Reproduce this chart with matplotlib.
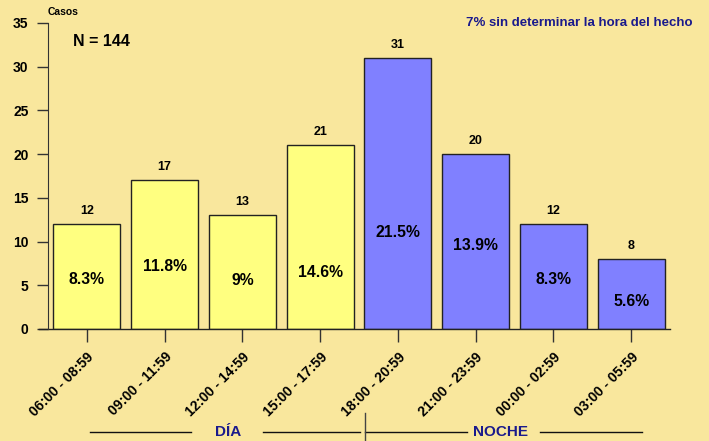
import matplotlib.pyplot as plt
from matplotlib.lines import Line2D

franjas = ['06:00 - 08:59', '09:00 - 11:59', '12:00 - 14:59', '15:00 - 17:59',
           '18:00 - 20:59', '21:00 - 23:59', '00:00 - 02:59', '03:00 - 05:59']
casos = [12, 17, 13, 21, 31, 20, 12, 8]
porcentajes = ['8.3%', '11.8%', '9%', '14.6%', '21.5%', '13.9%', '8.3%', '5.6%']
altura_pct = [5.7, 7.1, 5.6, 6.5, 11.0, 9.5, 5.7, 3.1]
periodo = ['dia'] * 4 + ['noche'] * 4

fondo = '#F9E79D'
colores = {'dia': '#FFFF80', 'noche': '#8080FF'}
azul_texto = '#1A1A8C'

plt.rcParams['font.family'] = ['Liberation Sans', 'DejaVu Sans']
plt.rcParams['font.weight'] = 'bold'

fig = plt.figure(figsize=(7.09, 4.41), dpi=100, facecolor=fondo)
ax = fig.add_axes([0.0677, 0.254, 0.8773, 0.694])
ax.set_facecolor(fondo)

x = list(range(len(casos)))
ax.bar(x, casos, width=0.86, color=[colores[p] for p in periodo],
       edgecolor='#222222', linewidth=1)

for i, v in enumerate(casos):
    ax.annotate(str(v), (i, v), xytext=(0, 5), textcoords='offset points',
                ha='center', va='bottom', fontsize=9, fontweight='bold')
    ax.text(i, altura_pct[i], porcentajes[i], ha='center', va='center',
            fontsize=11.3, fontweight='bold')

ax.set_xlim(-0.5, 7.5)
ax.set_ylim(0, 35)
ax.set_yticks(range(0, 36, 5))
ax.set_xticks(x)
ax.set_xticklabels(franjas, rotation=45, ha='right', rotation_mode='anchor',
                   fontsize=10, fontweight='bold')
ax.tick_params(axis='y', length=8, width=1, color='#333333', labelsize=10, pad=6)
ax.tick_params(axis='x', length=9, width=1, color='#333333', pad=6)

for s in ['top', 'right', 'bottom']:
    ax.spines[s].set_visible(False)
ax.spines['left'].set_color('#333333')

# linea base que llega hasta las marcas del eje y
ax.add_line(Line2D([-0.62, 7.5], [0, 0], color='#222222', lw=1, clip_on=False))

fig.text(48 / 709, 1 - 12 / 441, 'Casos', fontsize=7.5, fontweight='bold', va='center')
fig.text(73 / 709, 1 - 42 / 441, 'N = 144', fontsize=11.5, fontweight='bold', va='center')
fig.text(692 / 709, 1 - 23 / 441, '7% sin determinar la hora del hecho',
         fontsize=9.5, fontweight='bold', color=azul_texto, ha='right', va='center')

# rótulos de periodo al pie
yl = 1 - 432 / 441
fig.text(228 / 709, yl, 'DÍA', fontsize=11, fontweight='bold', color=azul_texto,
         ha='center', va='center')
fig.text(500 / 709, yl, 'NOCHE', fontsize=11, fontweight='bold', color=azul_texto,
         ha='center', va='center')
for x0, x1 in [(90, 191), (263, 360), (365, 467), (540, 642)]:
    fig.add_artist(Line2D([x0 / 709, x1 / 709], [yl, yl], color='#111111', lw=1))
fig.add_artist(Line2D([365 / 709, 365 / 709], [0, 1 - 413 / 441], color='#444444', lw=1))

fig.savefig('out.png', dpi=100, facecolor=fondo)
